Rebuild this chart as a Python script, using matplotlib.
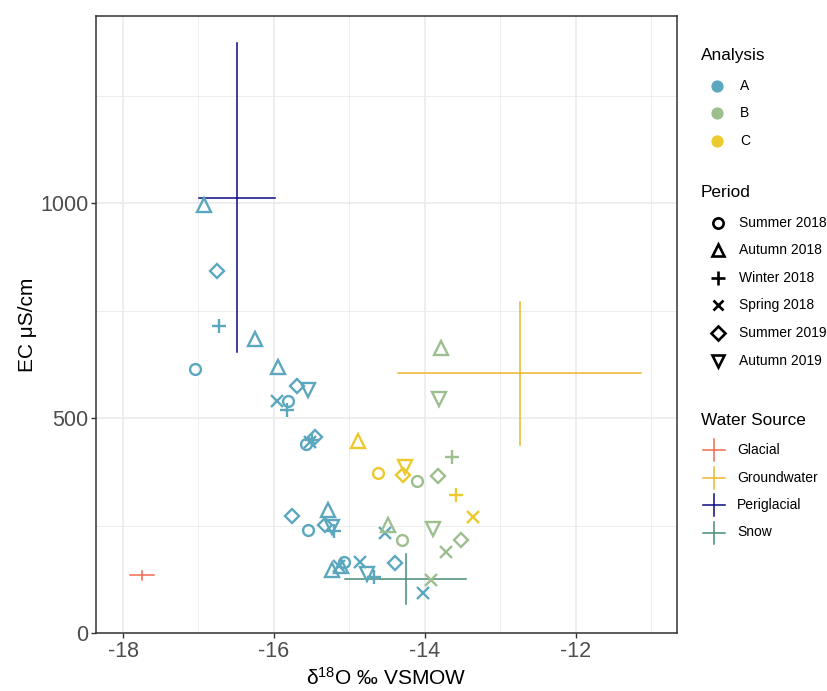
import numpy as np
import matplotlib
matplotlib.use("Agg")
import matplotlib.pyplot as plt

plt.rcParams['font.family'] = ['Liberation Sans', 'DejaVu Sans']
plt.rcParams['mathtext.fontset'] = 'custom'
plt.rcParams['mathtext.rm'] = 'Liberation Sans'
plt.rcParams['mathtext.it'] = 'Liberation Sans'
plt.rcParams['axes.unicode_minus'] = False

# sample points
d18o = [-16.93, -16.75, -16.73, -16.25, -17.05, -15.95, -15.69, -15.55, -15.96, -15.81,
        -15.83, -15.57, -15.52, -15.50, -15.46, -15.76, -15.55, -15.28, -15.32, -15.23,
        -15.21, -14.53, -15.23, -15.07, -15.11, -15.14, -14.86, -14.77, -14.68, -14.40,
        -14.02,
        -13.79, -13.82, -13.64, -14.11, -13.83, -14.49, -14.31, -13.89, -13.52, -13.72,
        -13.92,
        -14.88, -14.62, -14.26, -14.29, -13.59, -13.36]
ec = [996, 842, 714, 684, 614, 619, 575, 566, 540, 540,
      519, 441, 444, 449, 457, 273, 240, 286, 251, 247,
      237, 232, 147, 166, 156, 156, 166, 137, 131, 162,
      94,
      663, 545, 410, 354, 365, 251, 216, 241, 216, 189,
      123,
      448, 372, 387, 368, 321, 269]
analysis = ['A'] * 31 + ['B'] * 11 + ['C'] * 6
period = ['Autumn 2018', 'Summer 2019', 'Winter 2018', 'Autumn 2018', 'Summer 2018',
          'Autumn 2018', 'Summer 2019', 'Autumn 2019', 'Spring 2018', 'Summer 2018',
          'Winter 2018', 'Summer 2018', 'Spring 2018', 'Winter 2018', 'Summer 2019',
          'Summer 2019', 'Summer 2018', 'Autumn 2018', 'Summer 2019', 'Autumn 2019',
          'Winter 2018', 'Spring 2018', 'Autumn 2018', 'Summer 2018', 'Autumn 2018',
          'Spring 2018', 'Spring 2018', 'Autumn 2019', 'Winter 2018', 'Summer 2019',
          'Spring 2018',
          'Autumn 2018', 'Autumn 2019', 'Winter 2018', 'Summer 2018', 'Summer 2019',
          'Autumn 2018', 'Summer 2018', 'Autumn 2019', 'Summer 2019', 'Spring 2018',
          'Spring 2018',
          'Autumn 2018', 'Summer 2018', 'Autumn 2019', 'Summer 2019', 'Winter 2018',
          'Spring 2018']

# water source end-members (mean and range)
sources = ['Glacial', 'Groundwater', 'Periglacial', 'Snow']
src_x = [-17.75, -12.74, -16.49, -14.25]
src_y = [134, 605, 1013, 126]
src_xmin = [-17.91, -14.36, -16.99, -15.06]
src_xmax = [-17.59, -11.14, -15.98, -13.45]
src_ymin = [123, 438, 655, 67]
src_ymax = [145, 770, 1373, 183]

analyses = ['A', 'B', 'C']
periods = ['Summer 2018', 'Autumn 2018', 'Winter 2018', 'Spring 2018',
           'Summer 2019', 'Autumn 2019']

an_col = {'A': '#5BA8BE', 'B': '#9DBE8E', 'C': '#ECC92C'}
src_col = {'Glacial': '#F26A50', 'Groundwater': '#EEB52C',
           'Periglacial': '#0A0A80', 'Snow': '#458B74'}
shp = {'Summer 2018': ('o', 7.8), 'Autumn 2018': ('^', 9.5), 'Winter 2018': ('+', 10),
       'Spring 2018': ('x', 8), 'Summer 2019': ('D', 7.5), 'Autumn 2019': ('v', 9.5)}

W, H = 827, 691
fig = plt.figure(figsize=(W / 100, H / 100), dpi=100)
ax = fig.add_axes([96 / W, 1 - 633 / H, (677 - 96) / W, (633 - 16) / H])

# error crosses
for i, s in enumerate(sources):
    ax.plot([src_xmin[i], src_xmax[i]], [src_y[i], src_y[i]], color=src_col[s], lw=1.1, zorder=2)
    ax.plot([src_x[i], src_x[i]], [src_ymin[i], src_ymax[i]], color=src_col[s], lw=1.1, zorder=2)

for x, y, a, p in zip(d18o, ec, analysis, period):
    m, ms = shp[p]
    ax.plot(x, y, marker=m, ms=ms, mew=1.7, mfc='none', mec=an_col[a], ls='none', zorder=3)

ax.set_xlim(-18.358, -10.66)
ax.set_ylim(0, 1436)
ax.set_xticks([-18, -16, -14, -12])
ax.set_xticks([-17, -15, -13, -11], minor=True)
ax.set_yticks([0, 500, 1000])
ax.set_yticks([250, 750, 1250], minor=True)
ax.grid(which='major', color='#EBEBEB', lw=1.2)
ax.grid(which='minor', color='#EBEBEB', lw=0.6)
ax.set_axisbelow(True)
ax.tick_params(which='major', length=3.5, width=1, color='#333333', labelsize=15.5,
               labelcolor='#4D4D4D', pad=2)
ax.tick_params(which='minor', length=0)
for sp in ax.spines.values():
    sp.set_color('#333333')
    sp.set_linewidth(1.1)
ax.set_xlabel('δ$^{18}$O ‰ VSMOW', fontsize=15, labelpad=4)
ax.set_ylabel('EC μS/cm', fontsize=15, labelpad=2)

# legends drawn in pixel space
lax = fig.add_axes([0, 0, 1, 1], facecolor='none')
lax.set_xlim(0, W)
lax.set_ylim(H, 0)
lax.axis('off')

lax.text(701, 55, 'Analysis', fontsize=12.4, va='center', ha='left')
for k, a in enumerate(analyses):
    yy = 85.5 + k * 27.5
    lax.plot(717, yy, marker='o', ms=7.8, color=an_col[a], ls='none')
    lax.text(740, yy, a, fontsize=10, va='center', ha='left')

lax.text(701, 192, 'Period', fontsize=12.4, va='center', ha='left')
for k, p in enumerate(periods):
    yy = 222.5 + k * 27.6
    m, ms = shp[p]
    lax.plot(718, yy, marker=m, ms=ms * 0.95, mew=1.9, mfc='none', mec='black', ls='none')
    lax.text(739, yy, p, fontsize=10, va='center', ha='left')

lax.text(701, 420, 'Water Source', fontsize=12.4, va='center', ha='left')
for k, s in enumerate(sources):
    yy = 450 + k * 27.5
    lax.plot([703, 725], [yy, yy], color=src_col[s], lw=1.1)
    lax.plot([714, 714], [yy - 11, yy + 11], color=src_col[s], lw=1.1)
    lax.text(737, yy, s, fontsize=10, va='center', ha='left')

fig.savefig('out.png', dpi=100)
